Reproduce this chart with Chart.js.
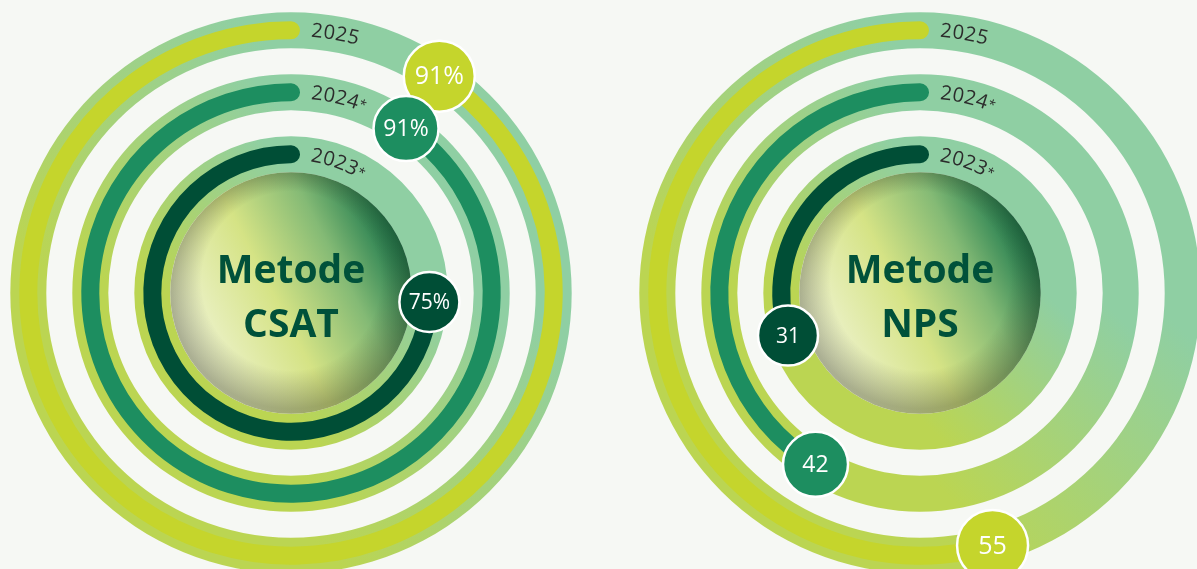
<!DOCTYPE html>
<html lang="id">
<head>
<meta charset="utf-8">
<title>Metode CSAT dan NPS</title>
<script src="https://cdn.jsdelivr.net/npm/chart.js@4.4.1/dist/chart.umd.min.js"></script>
<style>
  html, body { margin: 0; padding: 0; }
  body { width: 1197px; height: 569px; overflow: hidden; position: relative; background: #f6f8f4; }
  .ring { position: absolute; top: -7px; width: 600px; height: 600px; }
  #csat { left: -9px; }
  #nps { left: 620px; }
</style>
</head>
<body>
<canvas id="csat" class="ring" width="600" height="600"></canvas>
<canvas id="nps" class="ring" width="600" height="600"></canvas>
<script>
// scores per year, outer ring first
const years = ['2025', '2024*', '2023*'];
const csatValues = [91, 91, 75];
const npsValues = [55, 42, 31];
const maxScore = 100;

const barColors = ['#c5d52c', '#1d8e60', '#004e36'];
const badgeRadius = [35.5, 32.5, 30];
const BAR = 18, EDGE = 9, GAP = 26, OUTER = 280.7;

const mint = '#8fcfa3', lime = '#bbd552';
const FONT = '"Open Sans", "Noto Sans", sans-serif';

function spacer(w) {
  return { data: [1], backgroundColor: 'rgba(0,0,0,0)', weight: w };
}

// shift each ring so the rounded cap ends just past 12 o'clock
function capShift(i) {
  const mid = OUTER - EDGE - BAR / 2 - i * (BAR + 2 * EDGE + GAP);
  return EDGE / mid * 180 / Math.PI;
}

function buildDatasets(values) {
  const sets = [spacer(EDGE)];
  values.forEach((v, i) => {
    sets.push({
      label: years[i],
      data: [maxScore - v, v],
      backgroundColor: ['rgba(0,0,0,0)', barColors[i]],
      borderRadius: c => c.dataIndex === 1
        ? { outerStart: 0, innerStart: 0, outerEnd: EDGE, innerEnd: EDGE } : 0,
      rotation: capShift(i),
      weight: BAR
    });
    sets.push(spacer(i < values.length - 1 ? EDGE * 2 + GAP : EDGE));
  });
  return sets;
}

function barArcs(chart) {
  const out = [];
  chart.data.datasets.forEach((d, i) => {
    if (d.label) out.push({ arc: chart.getDatasetMeta(i).data[1], idx: out.length, value: d.data[1], year: d.label });
  });
  return out;
}

function drawBall(ctx, x, y, r) {
  const base = ctx.createLinearGradient(x - r * 0.85, y + r * 0.45, x + r * 0.9, y - r * 0.45);
  base.addColorStop(0, '#f0f4d5');
  base.addColorStop(0.42, '#d5e385');
  base.addColorStop(0.72, '#84ba75');
  base.addColorStop(1, '#137349');
  ctx.beginPath();
  ctx.arc(x, y, r, 0, Math.PI * 2);
  ctx.fillStyle = base;
  ctx.fill();
  // soft rim, heavier along the bottom
  const shade = ctx.createRadialGradient(x, y - r * 0.1, r * 0.74, x, y - r * 0.04, r * 1.0);
  shade.addColorStop(0, 'rgba(50,55,30,0)');
  shade.addColorStop(1, 'rgba(50,55,30,0.36)');
  ctx.fillStyle = shade;
  ctx.fill();
}

function drawArcText(ctx, text, cx, cy, r, startArc) {
  let a = startArc / r;
  ctx.fillStyle = '#2b2b2b';
  ctx.textAlign = 'center';
  ctx.textBaseline = 'middle';
  for (const ch of text) {
    const small = ch === '*';
    ctx.font = (small ? 'normal 400 13px ' : 'normal 400 20px ') + FONT;
    const w = ctx.measureText(ch).width + 0.8;
    const mid = a + (w / 2) / r;
    ctx.save();
    ctx.translate(cx + r * Math.sin(mid), cy - r * Math.cos(mid));
    ctx.rotate(mid);
    ctx.fillText(ch, 0, 0);
    ctx.restore();
    a += w / r;
  }
}

const ringDecor = {
  id: 'ringDecor',
  beforeDatasetsDraw(chart) {
    const ctx = chart.ctx;
    const bars = barArcs(chart);
    ctx.save();
    bars.forEach(({ arc }) => {
      const R = arc.outerRadius + EDGE, r = arc.innerRadius - EDGE;
      const g = ctx.createLinearGradient(arc.x - R, arc.y + R, arc.x + R, arc.y - R);
      g.addColorStop(0, lime);
      g.addColorStop(0.3, lime);
      g.addColorStop(0.7, mint);
      g.addColorStop(1, mint);
      ctx.beginPath();
      ctx.arc(arc.x, arc.y, R, 0, Math.PI * 2);
      ctx.arc(arc.x, arc.y, r, 0, Math.PI * 2, true);
      ctx.fillStyle = g;
      ctx.fill();
    });
    const inner = bars[bars.length - 1].arc;
    drawBall(ctx, inner.x, inner.y, inner.innerRadius - EDGE);
    ctx.restore();
  },
  afterDatasetsDraw(chart, args, opts) {
    const ctx = chart.ctx;
    const bars = barArcs(chart);
    const cx = bars[0].arc.x, cy = bars[0].arc.y;
    ctx.save();

    // centre title
    ctx.fillStyle = '#00513a';
    ctx.textAlign = 'center';
    ctx.textBaseline = 'alphabetic';
    ctx.font = 'normal bold 39px ' + FONT;
    ctx.fillText(opts.title[0], cx, cy - 10);
    ctx.fillText(opts.title[1], cx, cy + 44);

    bars.forEach(({ arc, idx, value, year }) => {
      const rm = (arc.innerRadius + arc.outerRadius) / 2;
      drawArcText(ctx, year, cx, cy, rm, 20);

      const br = badgeRadius[idx];
      const bx = arc.x + rm * Math.cos(arc.startAngle);
      const by = arc.y + rm * Math.sin(arc.startAngle);
      ctx.beginPath();
      ctx.arc(bx, by, br, 0, Math.PI * 2);
      ctx.fillStyle = barColors[idx];
      ctx.fill();
      ctx.lineWidth = 2.5;
      ctx.strokeStyle = '#ffffff';
      ctx.stroke();
      ctx.fillStyle = '#ffffff';
      ctx.textAlign = 'center';
      ctx.textBaseline = 'middle';
      ctx.font = 'normal 400 ' + Math.round(br * 0.7) + 'px ' + FONT;
      ctx.fillText(value + opts.suffix, bx, by + 1);
    });
    ctx.restore();
  }
};

function makeRing(id, values, title, suffix) {
  return new Chart(document.getElementById(id), {
    type: 'doughnut',
    data: { labels: ['sisa', 'skor'], datasets: buildDatasets(values) },
    options: {
      responsive: false,
      animation: false,
      events: [],
      cutout: OUTER - (BAR * 3 + (EDGE * 2 + GAP) * 2 + EDGE * 2),
      layout: { padding: 300 - OUTER },
      elements: { arc: { borderWidth: 0, hoverOffset: 0, offset: 0 } },
      plugins: {
        legend: { display: false },
        tooltip: { enabled: false },
        ringDecor: { title: title, suffix: suffix }
      }
    },
    plugins: [ringDecor]
  });
}

makeRing('csat', csatValues, ['Metode', 'CSAT'], '%');
makeRing('nps', npsValues, ['Metode', 'NPS'], '');
</script>
</body>
</html>
